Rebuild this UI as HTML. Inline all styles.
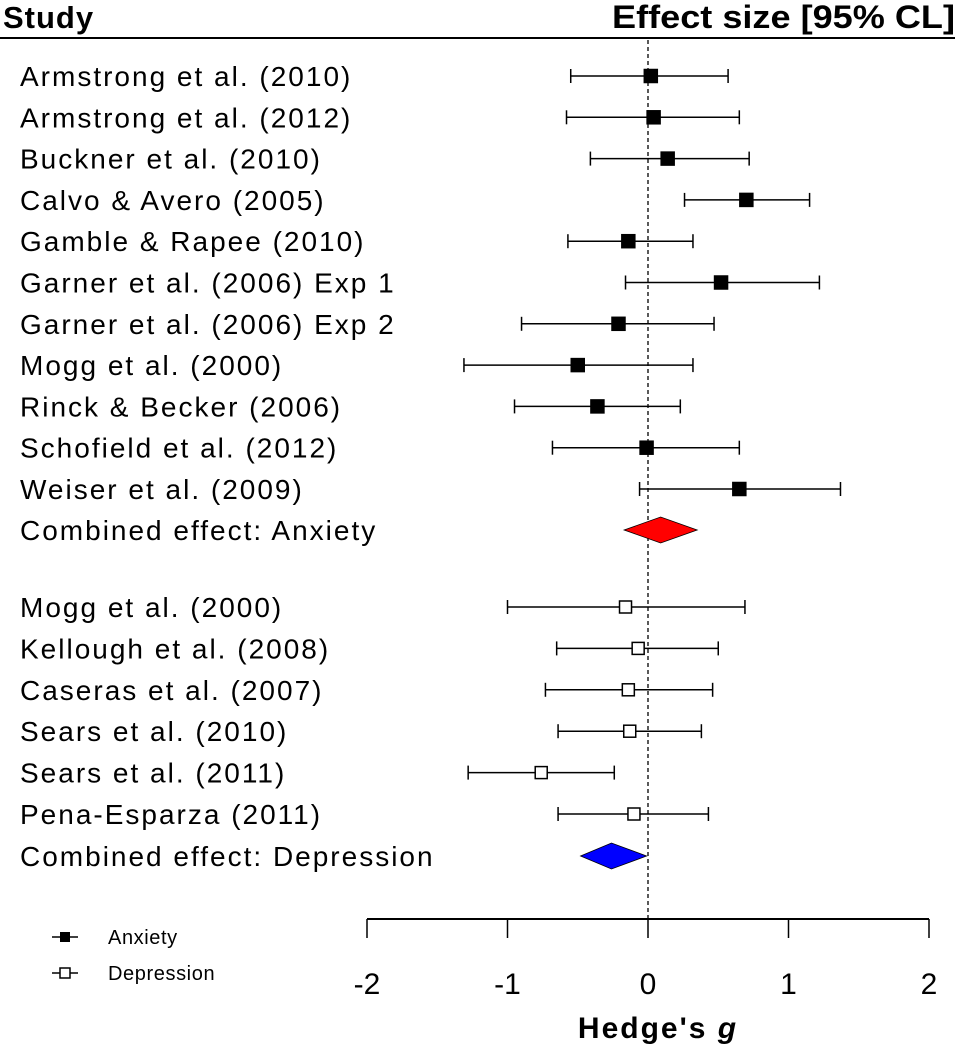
<!DOCTYPE html>
<html><head><meta charset="utf-8"><style>
html,body{margin:0;padding:0;background:#fff;}
svg{display:block;font-family:"Liberation Sans",Arial,sans-serif;}
</style></head><body>
<svg id="chart" width="971" height="1050">
<text x="3" y="28" font-size="31" font-weight="bold" letter-spacing="1">Study</text>
<text x="612" y="28" font-size="32" font-weight="bold" textLength="343" lengthAdjust="spacingAndGlyphs">Effect size [95% CL]</text>
<line x1="0" y1="38" x2="955" y2="38" stroke="#000" stroke-width="2"/>
<g id="plot"></g>
<g>
<line x1="52" y1="937" x2="78" y2="937" stroke="#000" stroke-width="1.5"/>
<rect x="60" y="932" width="10" height="10" fill="#000"/>
<text x="108" y="944" font-size="20" letter-spacing="0.6">Anxiety</text>
<line x1="52" y1="973" x2="78" y2="973" stroke="#000" stroke-width="1.5"/>
<rect x="60" y="968" width="10" height="10" fill="#fff" stroke="#000" stroke-width="1.5"/>
<text x="108" y="980" font-size="20" letter-spacing="0.6">Depression</text>
</g>
<text x="658" y="1038" font-size="30" font-weight="bold" letter-spacing="2" text-anchor="middle">Hedge's <tspan font-style="italic">g</tspan></text>
</svg>
<script>
const anxLabels=["Armstrong et al. (2010)","Armstrong et al. (2012)","Buckner et al. (2010)","Calvo & Avero (2005)","Gamble & Rapee (2010)","Garner et al. (2006) Exp 1","Garner et al. (2006) Exp 2","Mogg et al. (2000)","Rinck & Becker (2006)","Schofield et al. (2012)","Weiser et al. (2009)"];
const anxEst=[0.02,0.04,0.14,0.70,-0.14,0.52,-0.21,-0.50,-0.36,-0.01,0.65];
const anxLo=[-0.55,-0.58,-0.41,0.26,-0.57,-0.16,-0.90,-1.31,-0.95,-0.68,-0.06];
const anxHi=[0.57,0.65,0.72,1.15,0.32,1.22,0.47,0.32,0.23,0.65,1.37];
const anxCombined=[-0.17,0.09,0.35];
const depLabels=["Mogg et al. (2000)","Kellough et al. (2008)","Caseras et al. (2007)","Sears et al. (2010)","Sears et al. (2011)","Pena-Esparza (2011)"];
const depEst=[-0.16,-0.07,-0.14,-0.13,-0.76,-0.10];
const depLo=[-1.00,-0.65,-0.73,-0.64,-1.28,-0.64];
const depHi=[0.69,0.50,0.46,0.38,-0.24,0.43];
const depCombined=[-0.48,-0.26,-0.01];
const xTicks=[-2,-1,0,1,2];

const NS="http://www.w3.org/2000/svg";
const g=document.getElementById('plot');
function X(v){return 648+v*140.5;}
function mk(t,a){const e=document.createElementNS(NS,t);for(const k in a)e.setAttribute(k,a[k]);g.appendChild(e);return e;}
let ref=mk('line',{x1:X(0),y1:40,x2:X(0),y2:919,stroke:'#000','stroke-width':1.3,'stroke-dasharray':'4,3'});


function lbl(label,y){return mk('text',{x:20,y:y+10,'font-size':28,'letter-spacing':2});}
function row(label,est,lo,hi,y,filled,i,grp){
  const t=lbl(label,y);t.textContent=label;
  
  
  const l=mk('line',{x1:X(lo),y1:y,x2:X(hi),y2:y,stroke:'#000','stroke-width':1.5});
  
  
  [lo,hi].forEach(v=>{const c=mk('line',{x1:X(v),y1:y-7,x2:X(v),y2:y+7,stroke:'#000','stroke-width':1.5});
    
    });
  const s=filled?13:12;
  const r=mk('rect',{x:X(est)-s/2,y:y-s/2,width:s,height:s,fill:filled?'#000':'#fff',stroke:'#000','stroke-width':1.5});
  
  
}
function diamond(label,c,y,color,name){
  const t=lbl(label,y);t.textContent=label;
  
  
  const p=mk('polygon',{points:`${X(c[0])},${y} ${X(c[1])},${y-13} ${X(c[2])},${y} ${X(c[1])},${y+13}`,fill:color,stroke:'#000','stroke-width':0.8});
  
  
}
anxLabels.forEach((l,i)=>row(l,anxEst[i],anxLo[i],anxHi[i],76+i*41.3,true,i,'anxiety'));
diamond("Combined effect: Anxiety",anxCombined,530,'#ff0000','combined-anxiety');
depLabels.forEach((l,i)=>row(l,depEst[i],depLo[i],depHi[i],607+i*41.4,false,i,'depression'));
diamond("Combined effect: Depression",depCombined,856,'#0000ff','combined-depression');
const ax=mk('line',{x1:X(-2),y1:919,x2:X(2),y2:919,stroke:'#000','stroke-width':2});


xTicks.forEach(v=>{
  const tk=mk('line',{x1:X(v),y1:919,x2:X(v),y2:938,stroke:'#000','stroke-width':1.5});
  
  
  const tl=mk('text',{x:X(v),y:994,'font-size':30,'text-anchor':'middle'});tl.textContent=v<0?'-'+Math.abs(v):String(v);
  
  
});
</script>
</body></html>
